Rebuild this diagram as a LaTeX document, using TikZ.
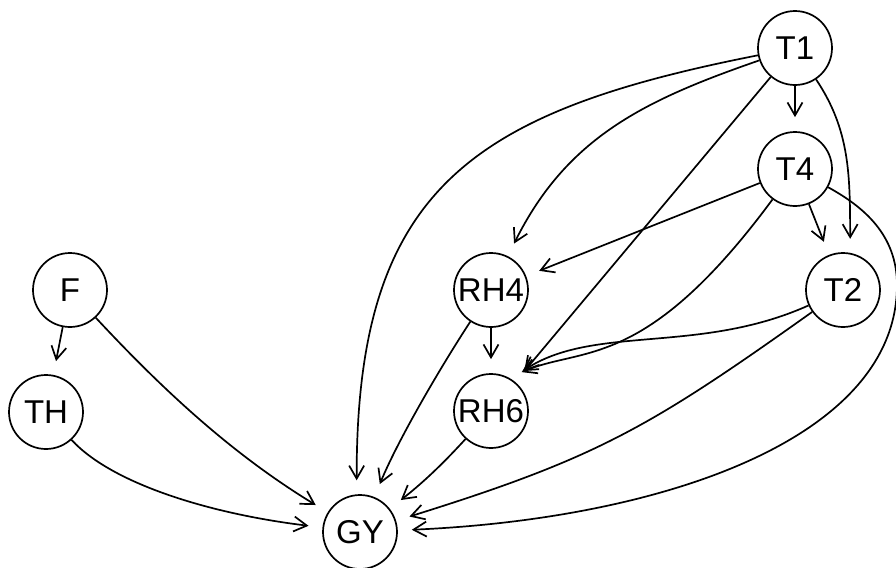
\documentclass[tikz,border=0pt]{standalone}
\usepackage{fontspec}
\setmainfont{Liberation Sans}
\usetikzlibrary{arrows.meta}
\begin{document}
\begin{tikzpicture}[x=0.5pt,y=-0.5pt,
  var/.style={circle,draw,line width=0.85pt,minimum size=37pt,inner sep=0pt,font=\fontsize{16.5}{19}\selectfont},
  edge/.style={line width=0.85pt,-{Straight Barb[length=6.5pt,width=7.5pt]},shorten >=7pt}]
\useasboundingbox (0,0) rectangle (896,568);
\node[var] (T1) at (795,48) {T1};
\node[var] (T4) at (795,169) {T4};
\node[var] (T2) at (843,290) {T2};
\node[var] (F) at (70,290) {F};
\node[var] (RH4) at (491,290) {RH4};
\node[var] (TH) at (46,412) {TH};
\node[var] (RH6) at (491,411) {RH6};
\node[var] (GY) at (360,532) {GY};
\coordinate (bendT4) at (897,285);
% T1
\draw[edge] (T1) -- (T4);
\draw[edge] (T1) .. controls (470,112) and (356,190) .. (GY.95);
\draw[edge] (T1) .. controls (645,100) and (567,137) .. (RH4);
\draw[edge] (T1) -- (RH6);
\draw[edge] (T1) .. controls (850,130) and (850,175) .. (T2.79);
% T4
\draw[edge] (T4) -- (T2);
\draw[edge] (T4) -- (RH4);
\draw[edge] (T4) .. controls (645,372) and (583,346) .. (RH6.62);
\draw[edge] (T4) .. controls (864,207) and (897,235) .. (bendT4) .. controls (897,440) and (659,519) .. (GY);
% T2
\draw[edge] (T2) .. controls (698,355) and (593,324) .. (RH6.58);
\draw[edge] (T2) .. controls (649,428) and (597,458) .. (GY);
% F, TH
\draw[edge] (F) -- (TH);
\draw[edge] (F) .. controls (163,390) and (232,454) .. (GY);
\draw[edge] (TH) .. controls (112,484) and (211,514) .. (GY);
% RH4, RH6
\draw[edge] (RH4) -- (RH6);
\draw[edge] (RH4) .. controls (440,368) and (398,440) .. (GY);
\draw[edge] (RH6) .. controls (440,467) and (420,485) .. (GY);
\end{tikzpicture}
\end{document}
